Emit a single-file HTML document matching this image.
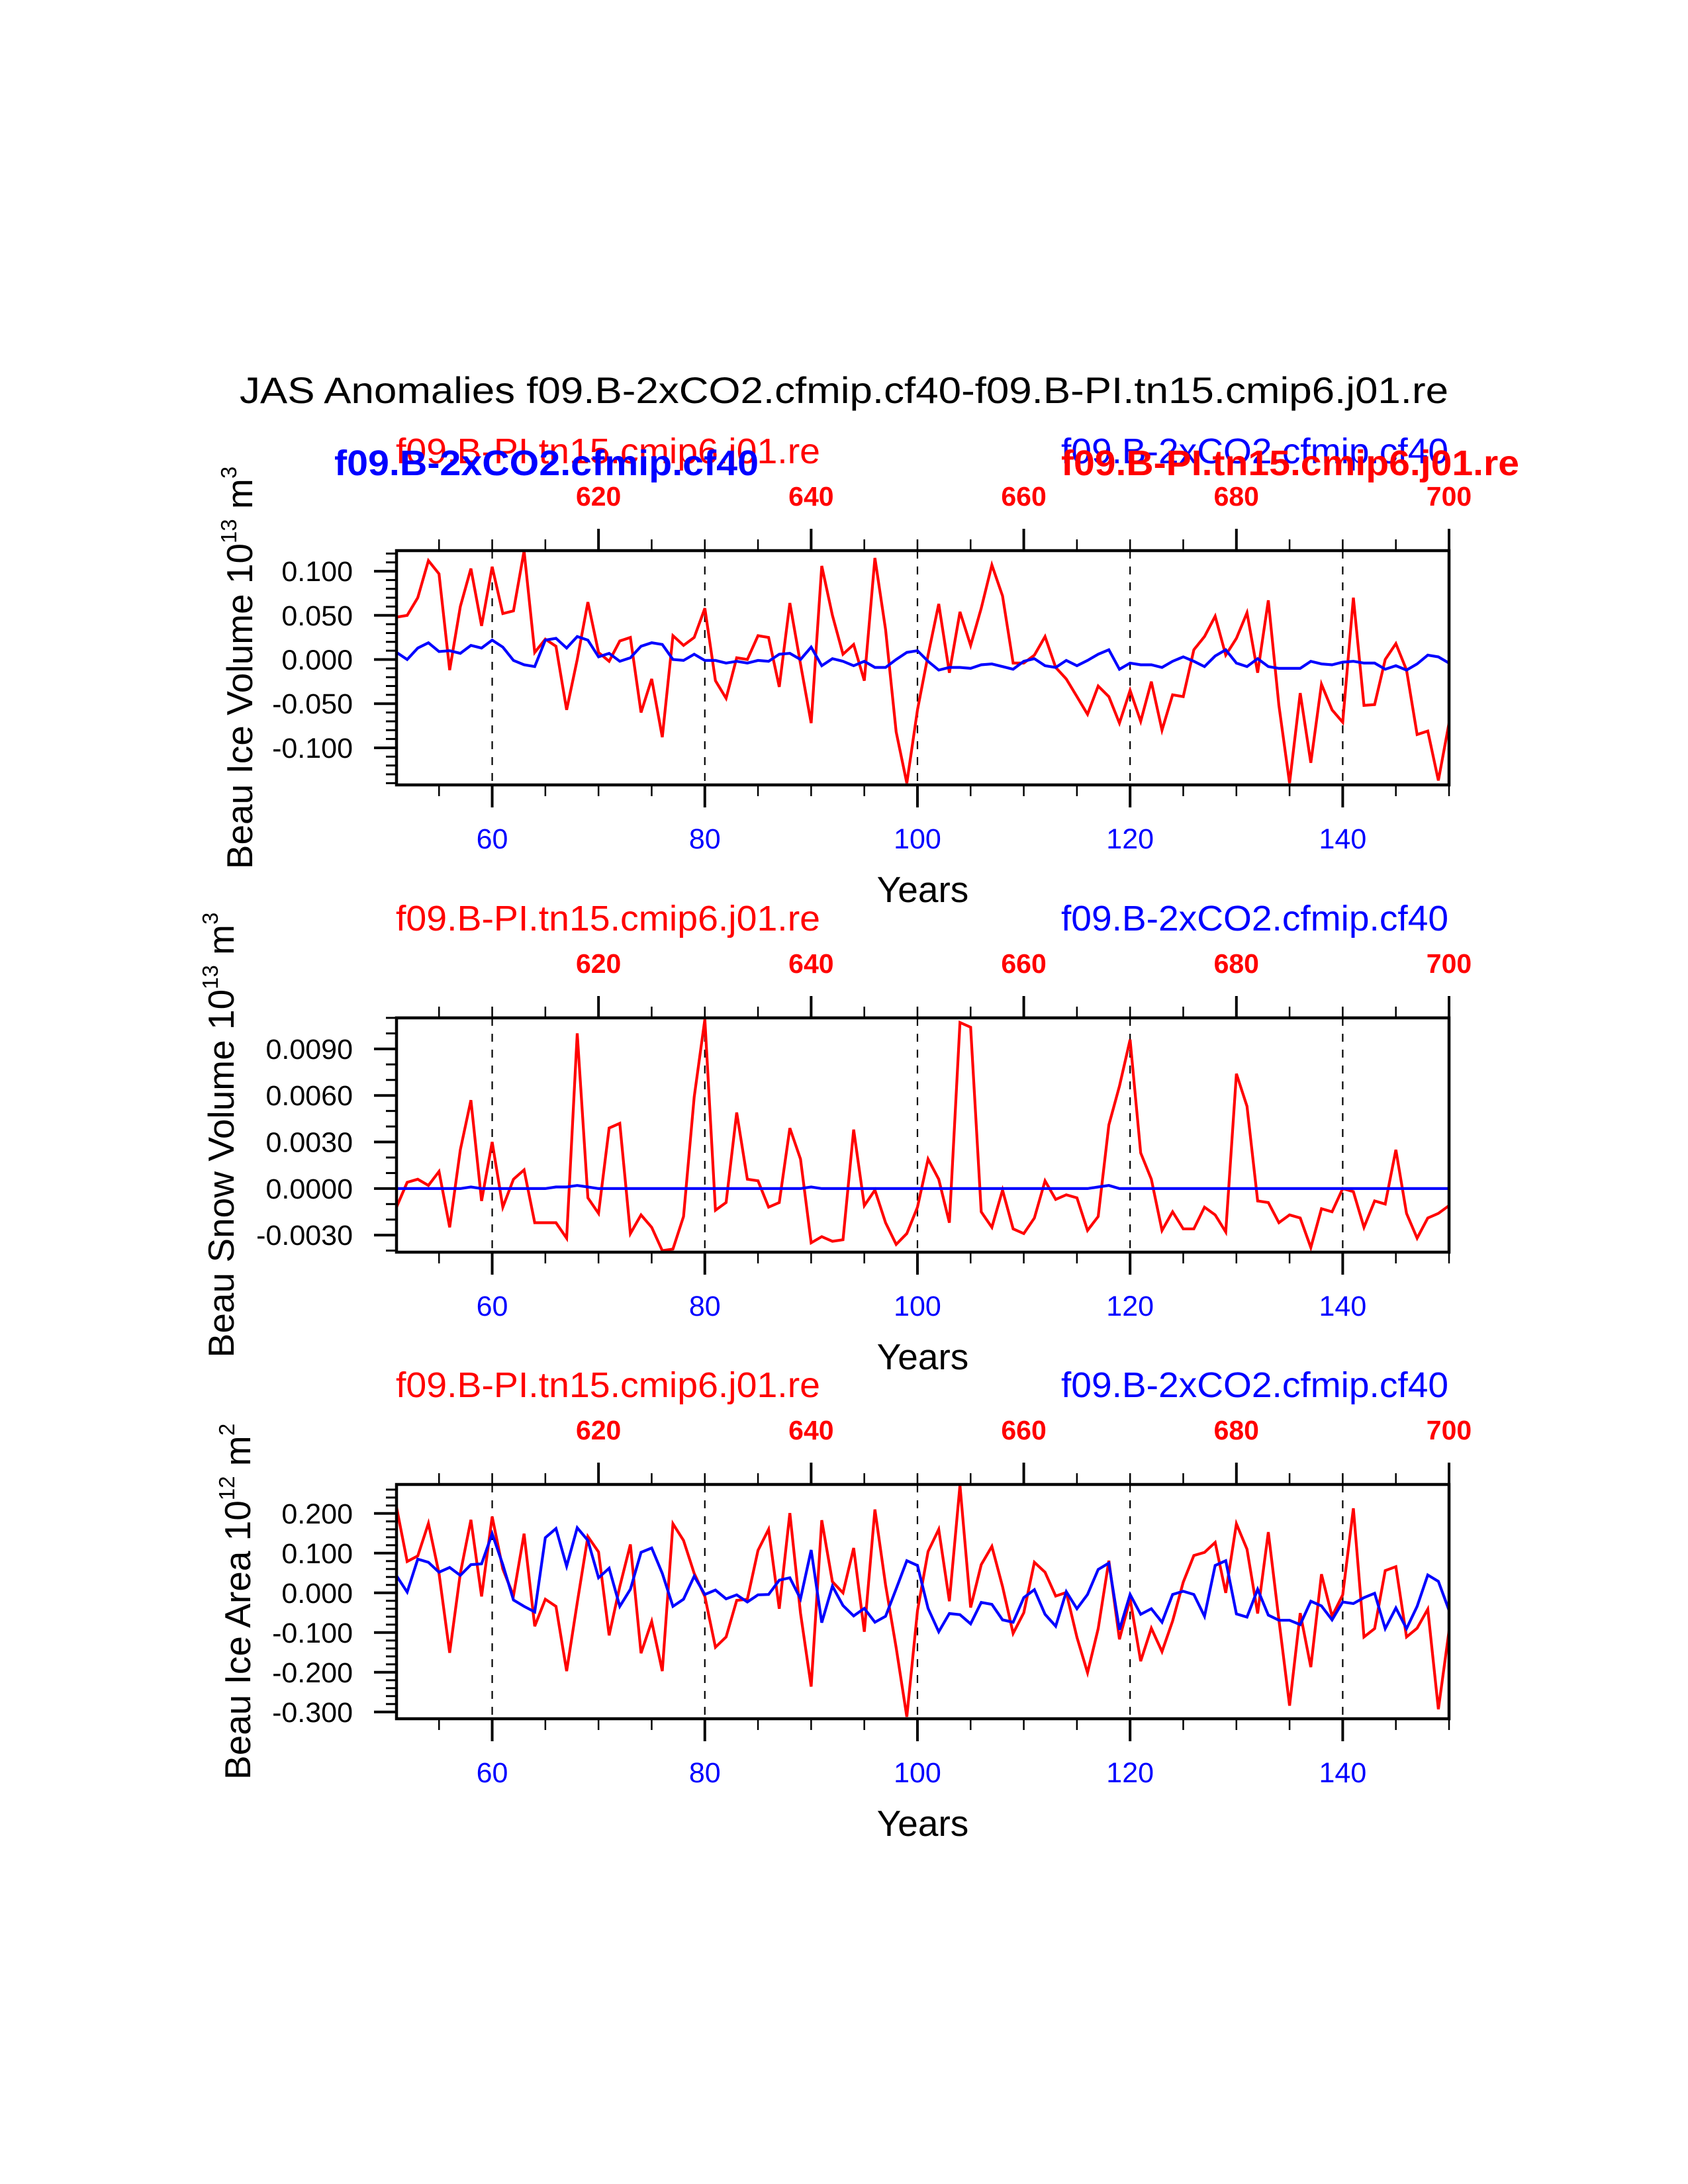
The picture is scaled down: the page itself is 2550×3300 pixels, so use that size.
<!DOCTYPE html>
<html>
<head>
<meta charset="utf-8">
<style>
html,body{margin:0;padding:0;background:#fff;}
svg{display:block;}
text{font-family:"Liberation Sans",Arial,sans-serif;}
</style>
</head>
<body>
<svg id="chart" xmlns="http://www.w3.org/2000/svg" width="2550" height="3300" viewBox="0 0 2550 3300">
<rect x="0" y="0" width="2550" height="3300" fill="#fff"/>
<text x="362" y="609" font-size="56" textLength="1826" lengthAdjust="spacingAndGlyphs" fill="#000">JAS Anomalies f09.B-2xCO2.cfmip.cf40-f09.B-PI.tn15.cmip6.j01.re</text>
</svg>
<script>
// ---- data ----
const years = [];
for (let y = 51; y <= 150; y++) years.push(y);

const iceVolRed = [0.048,0.050,0.070,0.112,0.097,-0.012,0.060,0.103,0.038,0.105,
0.052,0.055,0.123,0.008,0.023,0.015,-0.057,0.000,0.065,0.008,
-0.002,0.021,0.025,-0.060,-0.022,-0.088,0.027,0.016,0.025,0.058,
-0.024,-0.044,0.002,0.000,0.027,0.025,-0.031,0.064,-0.005,-0.072,
0.106,0.050,0.006,0.017,-0.024,0.115,0.034,-0.082,-0.140,-0.057,
0.005,0.063,-0.015,0.054,0.016,0.058,0.107,0.072,-0.004,-0.004,
0.005,0.026,-0.009,-0.022,-0.042,-0.062,-0.030,-0.042,-0.072,-0.035,
-0.070,-0.025,-0.080,-0.040,-0.042,0.011,0.026,0.049,0.005,0.024,
0.053,-0.015,0.067,-0.052,-0.140,-0.038,-0.117,-0.028,-0.057,-0.071,
0.070,-0.052,-0.051,0.000,0.018,-0.012,-0.085,-0.081,-0.137,-0.072];
const iceVolBlue = [0.008,0.000,0.013,0.019,0.009,0.010,0.007,0.016,0.013,0.022,
0.014,-0.001,-0.006,-0.008,0.022,0.024,0.013,0.026,0.022,0.003,
0.007,-0.002,0.002,0.015,0.019,0.017,0.000,-0.001,0.006,-0.001,
-0.001,-0.004,-0.002,-0.004,-0.001,-0.002,0.006,0.007,0.000,0.014,
-0.007,0.001,-0.002,-0.007,-0.002,-0.009,-0.009,0.000,0.008,0.010,
-0.002,-0.012,-0.009,-0.009,-0.010,-0.006,-0.005,-0.008,-0.011,-0.002,
0.001,-0.007,-0.009,-0.001,-0.007,-0.001,0.006,0.011,-0.011,-0.004,
-0.006,-0.006,-0.009,-0.002,0.003,-0.002,-0.008,0.004,0.011,-0.004,
-0.008,0.001,-0.008,-0.010,-0.010,-0.010,-0.002,-0.005,-0.006,-0.003,
-0.002,-0.004,-0.004,-0.011,-0.007,-0.012,-0.005,0.005,0.003,-0.004];

const snowRed = [-0.0012,0.0004,0.0006,0.0002,0.0011,-0.0025,0.0025,0.0057,-0.0008,0.0030,
-0.0012,0.0006,0.0012,-0.0022,-0.0022,-0.0022,-0.0032,0.0100,-0.0006,-0.0016,
0.0039,0.0042,-0.0029,-0.0017,-0.0025,-0.0040,-0.0039,-0.0018,0.0059,0.0109,
-0.0014,-0.0009,0.0049,0.0006,0.0005,-0.0012,-0.0009,0.0039,0.0019,-0.0035,
-0.0031,-0.0034,-0.0033,0.0038,-0.0011,-0.0001,-0.0022,-0.0036,-0.0029,-0.0012,
0.0019,0.0006,-0.0022,0.0107,0.0104,-0.0015,-0.0025,-0.0001,-0.0026,-0.0029,
-0.0019,0.0005,-0.0007,-0.0004,-0.0006,-0.0027,-0.0018,0.0041,0.0066,0.0096,
0.0023,0.0006,-0.0027,-0.0015,-0.0026,-0.0026,-0.0012,-0.0017,-0.0028,0.0074,
0.0053,-0.0008,-0.0009,-0.0022,-0.0017,-0.0019,-0.0038,-0.0013,-0.0015,0.0000,
-0.0002,-0.0025,-0.0008,-0.0010,0.0025,-0.0016,-0.0032,-0.0019,-0.0016,-0.0011];
const snowBlueBumps = {58:0.0001,66:0.0001,67:0.0001,68:0.0002,69:0.0001,90:0.0001,117:0.0001,118:0.0002};

const areaRed = [0.216,0.079,0.093,0.175,0.049,-0.151,0.049,0.184,-0.009,0.192,
0.060,-0.007,0.149,-0.084,-0.016,-0.034,-0.197,-0.025,0.142,0.103,
-0.107,0.016,0.122,-0.152,-0.072,-0.197,0.174,0.132,0.049,-0.009,
-0.137,-0.111,-0.019,-0.016,0.107,0.160,-0.040,0.201,-0.051,-0.236,
0.183,0.028,0.000,0.113,-0.098,0.210,0.020,-0.138,-0.312,-0.045,
0.104,0.160,-0.021,0.271,-0.037,0.071,0.117,0.016,-0.102,-0.050,
0.077,0.052,-0.008,0.001,-0.112,-0.201,-0.090,0.081,-0.117,-0.015,
-0.172,-0.089,-0.148,-0.071,0.027,0.094,0.102,0.127,0.000,0.174,
0.110,-0.052,0.153,-0.068,-0.284,-0.051,-0.187,0.047,-0.059,-0.005,
0.213,-0.111,-0.090,0.056,0.066,-0.111,-0.089,-0.041,-0.293,-0.096];
const areaBlue = [0.043,0.002,0.085,0.077,0.052,0.064,0.044,0.071,0.073,0.149,
0.071,-0.018,-0.034,-0.048,0.139,0.162,0.067,0.164,0.132,0.038,
0.062,-0.034,0.009,0.102,0.113,0.049,-0.034,-0.016,0.042,-0.004,
0.007,-0.015,-0.005,-0.023,-0.005,-0.004,0.032,0.038,-0.015,0.108,
-0.075,0.017,-0.032,-0.058,-0.039,-0.074,-0.059,0.010,0.081,0.069,
-0.039,-0.098,-0.052,-0.055,-0.078,-0.024,-0.029,-0.068,-0.074,-0.012,
0.008,-0.054,-0.084,0.003,-0.040,-0.004,0.059,0.075,-0.093,-0.004,
-0.054,-0.040,-0.074,-0.004,0.004,-0.004,-0.059,0.069,0.081,-0.053,
-0.061,0.009,-0.056,-0.069,-0.069,-0.080,-0.021,-0.033,-0.068,-0.023,
-0.027,-0.012,-0.001,-0.090,-0.038,-0.090,-0.034,0.045,0.029,-0.044];

const bottomLabels = [60,80,100,120,140];
const topLabels = [620,640,660,680,700];
const p1Ticks = ["-0.100","-0.050","0.000","0.050","0.100"];
const p2Ticks = ["-0.0030","0.0000","0.0030","0.0060","0.0090"];
const p3Ticks = ["-0.300","-0.200","-0.100","0.000","0.100","0.200"];

// ---- drawing ----
const NS = "http://www.w3.org/2000/svg";
const svg = document.getElementById("chart");
const X0 = 599, X1 = 2189, H = 354, XMIN = 51, XMAX = 150, OFFSET = 550;
function xs(yr){ return X0 + (yr - XMIN) / (XMAX - XMIN) * (X1 - X0); }
function mk(tag, attrs, parent){
  const e = document.createElementNS(NS, tag);
  for (const k in attrs) e.setAttribute(k, attrs[k]);
  (parent || svg).appendChild(e);
  return e;
}

const snowBlue = years.map(y => snowBlueBumps[y] || 0);

const panels = [
  {key:"ice-volume", top:832, ymin:-0.142, ymax:0.1233, major:p1Ticks, minorStep:0.01, minorFrom:-0.14, minorTo:0.12,
   red:iceVolRed, blue:iceVolBlue, labelX:381, label:["Beau Ice Volume 10","13"," m","3"], bold:true},
  {key:"snow-volume", top:1538, ymin:-0.0041, ymax:0.0110, major:p2Ticks, minorStep:0.001, minorFrom:-0.004, minorTo:0.011,
   red:snowRed, blue:snowBlue, labelX:353, label:["Beau Snow Volume 10","13"," m","3"], bold:false},
  {key:"ice-area", top:2243, ymin:-0.317, ymax:0.273, major:p3Ticks, minorStep:0.02, minorFrom:-0.30, minorTo:0.26,
   red:areaRed, blue:areaBlue, labelX:378, label:["Beau Ice Area 10","12"," m","2"], bold:false}
];

panels.forEach(p => {
  const g = mk("g", {});
  
  
  const top = p.top, bot = p.top + H;
  const ys = v => bot - (v - p.ymin) / (p.ymax - p.ymin) * H;

  // dashed grid
  bottomLabels.forEach(yr => {
    const l = mk("line", {x1:xs(yr), x2:xs(yr), y1:top, y2:bot, stroke:"#000", "stroke-width":2.2, "stroke-dasharray":"12,12"}, g);
    
    
  });

  // series
  [["red", p.red, "#ff0000"], ["blue", p.blue, "#0000ff"]].forEach(s => {
    const pts = s[1].map((v, i) => xs(years[i]).toFixed(1) + "," + ys(v).toFixed(1)).join(" ");
    const pl = mk("polyline", {points:pts, fill:"none", stroke:s[2], "stroke-width":4.2, "stroke-linejoin":"miter"}, g);
    
    
  });

  // blank out outside area (clip)
  // frame
  const fr = mk("rect", {x:X0, y:top, width:X1-X0, height:H, fill:"none", stroke:"#000", "stroke-width":4.5}, g);
  
  

  // y minor ticks
  const nMinor = Math.round((p.minorTo - p.minorFrom) / p.minorStep);
  for (let i = 0; i <= nMinor; i++) {
    const v = p.minorFrom + i * p.minorStep;
    mk("line", {x1:X0-16, x2:X0, y1:ys(v), y2:ys(v), stroke:"#000", "stroke-width":3}, g);
  }
  // y major ticks + labels
  p.major.forEach(t => {
    const v = parseFloat(t);
    mk("line", {x1:X0-34, x2:X0, y1:ys(v), y2:ys(v), stroke:"#000", "stroke-width":4}, g);
    const tx = mk("text", {x:533, y:ys(v)+15, "font-size":43, "text-anchor":"end", fill:"#000"}, g);
    tx.textContent = t;
    
    
  });

  // x ticks (bottom & top)
  for (let yr = 55; yr <= 150; yr += 5) {
    const x = xs(yr);
    const botMajor = bottomLabels.includes(yr);
    mk("line", {x1:x, x2:x, y1:bot, y2:bot + (botMajor ? 34 : 17), stroke:"#000", "stroke-width": botMajor ? 4 : 2.5}, g);
    const topMajor = topLabels.includes(yr + OFFSET);
    mk("line", {x1:x, x2:x, y1:top, y2:top - (topMajor ? 33 : 17), stroke:"#000", "stroke-width": topMajor ? 4 : 2.5}, g);
  }
  bottomLabels.forEach(yr => {
    const t = mk("text", {x:xs(yr), y:bot+96, "font-size":43, "text-anchor":"middle", fill:"#0000ff"}, g);
    t.textContent = yr;
    
    
  });
  topLabels.forEach(yr => {
    const t = mk("text", {x:xs(yr - OFFSET), y:top-68, "font-size":41, "font-weight":"bold", "text-anchor":"middle", fill:"#ff0000"}, g);
    t.textContent = yr;
    
    
  });

  // x-axis title
  const xt = mk("text", {x:(X0+X1)/2, y:bot+177, "font-size":55, "text-anchor":"middle", fill:"#000"}, g);
  xt.textContent = "Years";
  
  

  // y-axis title
  const cy = top + H/2;
  const yt = mk("text", {x:0, y:0, "font-size":55, "text-anchor":"middle", fill:"#000",
    transform:"translate(" + p.labelX + "," + cy + ") rotate(-90)"}, g);
  
  
  const parts = p.label;
  const t1 = mk("tspan", {}, yt); t1.textContent = parts[0];
  const t2 = mk("tspan", {dy:-24, "font-size":33}, yt); t2.textContent = parts[1];
  const t3 = mk("tspan", {dy:24}, yt); t3.textContent = parts[2];
  const t4 = mk("tspan", {dy:-24, "font-size":33}, yt); t4.textContent = parts[3];

  // legend-like subtitles
  const sr = mk("text", {x:598, y:top-132, "font-size":54, fill:"#ff0000", textLength:641, lengthAdjust:"spacingAndGlyphs"}, g);
  sr.textContent = "f09.B-PI.tn15.cmip6.j01.re";
  
  
  const sb = mk("text", {x:1603, y:top-132, "font-size":54, fill:"#0000ff", textLength:585, lengthAdjust:"spacingAndGlyphs"}, g);
  sb.textContent = "f09.B-2xCO2.cfmip.cf40";
  
  
  if (p.bold) {
    const bb = mk("text", {x:505, y:top-114, "font-size":54, "font-weight":"bold", fill:"#0000ff", textLength:641, lengthAdjust:"spacingAndGlyphs"}, g);
    bb.textContent = "f09.B-2xCO2.cfmip.cf40";
    
    
    const rb = mk("text", {x:1603, y:top-114, "font-size":54, "font-weight":"bold", fill:"#ff0000", textLength:692, lengthAdjust:"spacingAndGlyphs"}, g);
    rb.textContent = "f09.B-PI.tn15.cmip6.j01.re";
    
    
  }
});
</script>
</body>
</html>
